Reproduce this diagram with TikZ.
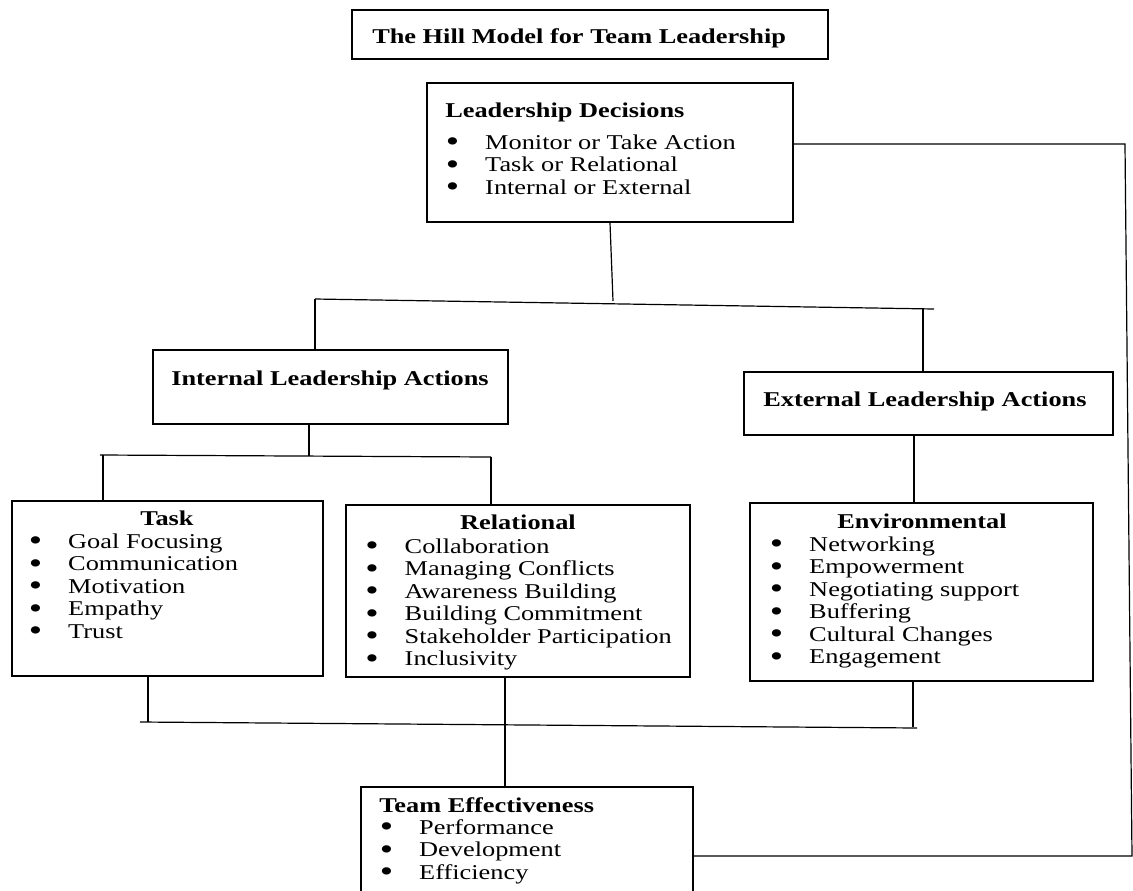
\documentclass[tikz,border=0pt]{standalone}
\usepackage{fontspec}
\setmainfont{Liberation Serif}[FakeStretch=1.25]
\usetikzlibrary{fit}
\newcommand\dfont{\fontsize{15.8}{16.875}\selectfont}
\newcommand\bitem[1]{\makebox[29.6pt][l]{\smash{\raisebox{-0.12em}{\scalebox{1.45}{\textbullet}}}}#1}
\newcommand\blist[1]{\begin{tabular}[t]{@{}l@{}}#1\end{tabular}}
\tikzset{
  box/.style={draw, line width=1.1pt, inner sep=0pt},
  txt/.style={inner sep=0pt, anchor=base west, font=\dfont},
  hd/.style={txt, font=\dfont\bfseries},
  hdc/.style={hd, anchor=base},
  conn/.style={line width=0.9pt}
}
\begin{document}
\begin{tikzpicture}[x=0.75pt, y=-0.75pt]
\useasboundingbox (0,0) rectangle (1133,890);
% boxes
\node[box, fit={(352,10) (828,59)}] (title) {};
\node[box, fit={(427,83) (793,222)}] (ld) {};
\node[box, fit={(153,350) (508,424)}] (int) {};
\node[box, fit={(744,372) (1113,435)}] (ext) {};
\node[box, fit={(12,501) (323,676)}] (task) {};
\node[box, fit={(346,505) (690,677)}] (rel) {};
\node[box, fit={(750,503) (1093,681)}] (env) {};
\node[box, fit={(361,787) (693,900)}] (te) {};
% texts
\node[hd] (titlet) at (372,43) {The Hill Model for Team Leadership};
\node[hd] (ldh) at (445,117) {Leadership Decisions};
\node[txt] (ldl) at (445.5,149) {\blist{\bitem{Monitor or Take Action}\\ \bitem{Task or Relational}\\ \bitem{Internal or External}}};
\node[hd] (inth) at (171,385) {Internal Leadership Actions};
\node[hd] (exth) at (763,406) {External Leadership Actions};
\node[hdc] (taskh) at (167,525) {Task};
\node[txt] (taskl) at (28.5,548) {\blist{\bitem{Goal Focusing}\\ \bitem{Communication}\\ \bitem{Motivation}\\ \bitem{Empathy}\\ \bitem{Trust}}};
\node[hdc] (relh) at (518,529) {Relational};
\node[txt] (rell) at (365,553) {\blist{\bitem{Collaboration}\\ \bitem{Managing Conflicts}\\ \bitem{Awareness Building}\\ \bitem{Building Commitment}\\ \bitem{Stakeholder Participation}\\ \bitem{Inclusivity}}};
\node[hdc] (envh) at (922,528) {Environmental};
\node[txt] (envl) at (769.5,551) {\blist{\bitem{Networking}\\ \bitem{Empowerment}\\ \bitem{Negotiating support}\\ \bitem{Buffering}\\ \bitem{Cultural Changes}\\ \bitem{Engagement}}};
\node[hd] (teh) at (379,812) {Team Effectiveness};
\node[txt] (tel) at (379.5,834) {\blist{\bitem{Performance}\\ \bitem{Development}\\ \bitem{Efficiency}}};
% junction coordinates
\coordinate (j1) at (613,301);
\coordinate (h1l) at (315,299);
\coordinate (h1r) at (934,309);
\coordinate (jext) at (923,308);
\coordinate (j2) at (309,456);
\coordinate (h2l) at (100,455);
\coordinate (h2r) at (491,457);
\coordinate (h2a) at (103,455);
\coordinate (xe) at (914,0);
\coordinate (h3l) at (140,722);
\coordinate (h3r) at (917,728);
\coordinate (h3t) at (148,722);
\coordinate (h3e) at (913,727);
\coordinate (xr) at (505,0);
\coordinate (c1) at (1125,144);
\coordinate (c2) at (1132,856);
% connectors
\draw[conn] (ld.south) -- (j1);
\draw[conn] (h1l) -- (h1r);
\draw[conn] (h1l) -- (h1l |- int.north);
\draw[conn] (jext) -- (jext |- ext.north);
\draw[conn] (j2 |- int.south) -- (j2);
\draw[conn] (h2l) -- (h2r);
\draw[conn] (h2a) -- (h2a |- task.north);
\draw[conn] (h2r) -- (h2r |- rel.north);
\draw[conn] (xe |- ext.south) -- (xe |- env.north);
\draw[conn] (h3l) -- (h3r);
\draw[conn] (h3t |- task.south) -- (h3t);
\draw[conn] (h3e |- env.south) -- (h3e);
\draw[conn] (xr |- rel.south) -- (xr |- te.north);
\draw[conn] (c1 -| ld.east) -- (c1) -- (c2) -- (c2 -| te.east);
\end{tikzpicture}
\end{document}
